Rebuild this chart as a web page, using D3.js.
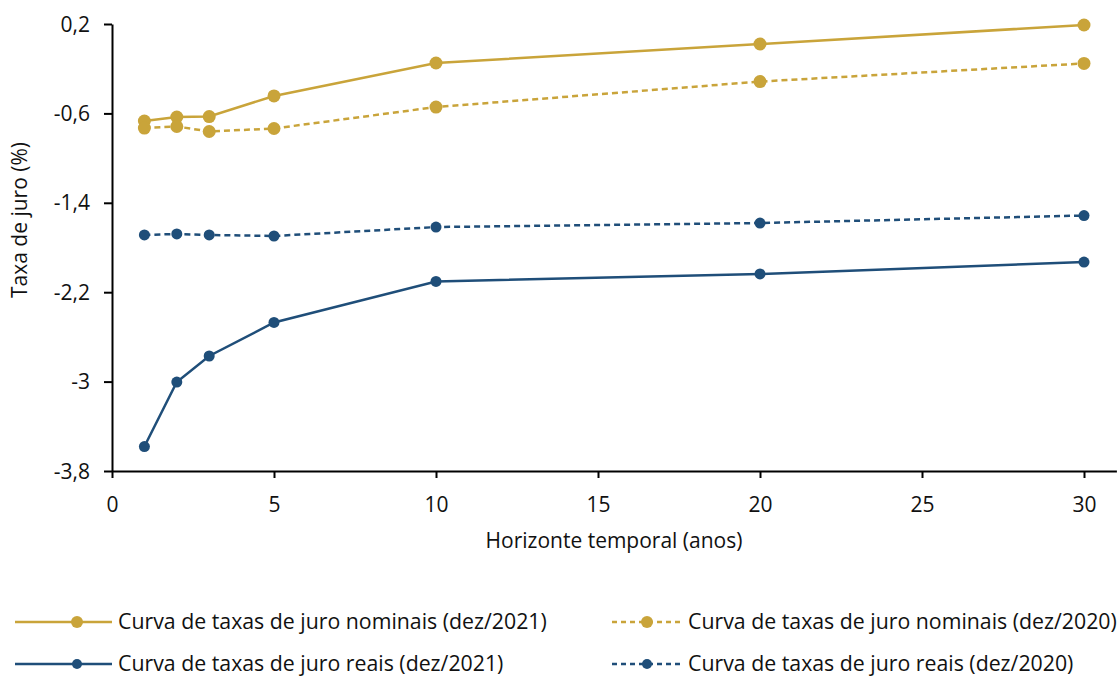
<!DOCTYPE html>
<html><head><meta charset="utf-8">
<script src="https://cdn.jsdelivr.net/npm/d3@7"></script>
<style>
body{margin:0;background:#fff;}
svg{font-family:"Open Sans",sans-serif;}
</style></head>
<body><svg id="c" width="1120" height="676"></svg>
<script>
const horizons = [1, 2, 3, 5, 10, 20, 30];
const nominal2021 = [-0.668, -0.632, -0.628, -0.444, -0.149, 0.021, 0.191];
const nominal2020 = [-0.731, -0.717, -0.762, -0.735, -0.543, -0.315, -0.153];
const real2021 = [-3.581, -3.004, -2.771, -2.471, -2.104, -2.037, -1.930];
const real2020 = [-1.688, -1.679, -1.688, -1.697, -1.617, -1.581, -1.514];
const yTicks = [0.2, -0.6, -1.4, -2.2, -3, -3.8];
const xTicks = [0, 5, 10, 15, 20, 25, 30];
const seriesNames = ["Curva de taxas de juro nominais (dez/2021)", "Curva de taxas de juro nominais (dez/2020)", "Curva de taxas de juro reais (dez/2021)", "Curva de taxas de juro reais (dez/2020)"];

const gold = "#C9A43A", blue = "#1F4E79";
const series = [
  {name: seriesNames[0], values: nominal2021, color: gold, dash: null, r: 6.5},
  {name: seriesNames[1], values: nominal2020, color: gold, dash: "6,4", r: 6.5},
  {name: seriesNames[2], values: real2021, color: blue, dash: null, r: 5.5},
  {name: seriesNames[3], values: real2020, color: blue, dash: "6,4", r: 5.5}
];

const svg = d3.select("#c");
const x = d3.scaleLinear().domain([0, 31]).range([112, 1116.4]);
const y = d3.scaleLinear().domain([-3.8, 0.2]).range([471, 24]);
const fmt = v => String(v).replace(".", ",");
const FS = 21;

const xAxis = svg.append("g").attr("transform", "translate(0,471)")
  .call(d3.axisBottom(x).tickValues(xTicks).tickSize(7).tickSizeOuter(0).tickFormat(fmt));
const yAxis = svg.append("g").attr("transform", "translate(112,0)")
  .call(d3.axisLeft(y).tickValues(yTicks).tickSize(8).tickSizeOuter(0).tickFormat(fmt));
[xAxis, yAxis].forEach(a => {
  a.select(".domain").attr("stroke", "#000").attr("stroke-width", 2);
  a.selectAll(".tick line").attr("stroke", "#000").attr("stroke-width", 2);
  a.selectAll("text").attr("font-size", FS).attr("fill", "#111").attr("font-family", "Open Sans");
});
xAxis.selectAll(".tick text").attr("y", 26).attr("dy", "0.71em");
yAxis.selectAll(".tick text").attr("x", -22).attr("dy", "0.34em");

svg.append("text").attr("x", 614).attr("y", 548).attr("text-anchor", "middle")
  .attr("font-size", FS).attr("fill", "#111").text("Horizonte temporal (anos)");
svg.append("text").attr("transform", "translate(27,220) rotate(-90)").attr("text-anchor", "middle")
  .attr("font-size", FS).attr("fill", "#111").text("Taxa de juro (%)");

const line = d3.line().x((d, i) => x(horizons[i])).y(d => y(d));
series.forEach(s => {
  svg.append("path").attr("d", line(s.values)).attr("fill", "none")
    .attr("stroke", s.color).attr("stroke-width", 2.5).attr("stroke-dasharray", s.dash);
  svg.selectAll(null).data(s.values).enter().append("circle")
    .attr("cx", (d, i) => x(horizons[i])).attr("cy", d => y(d)).attr("r", s.r).attr("fill", s.color);
});

// legend
const legPos = [[42, 622], [612, 622], [42, 664], [612, 664]];
series.forEach((s, i) => {
  const [lx, ly] = legPos[i];
  const g = svg.append("g").attr("transform", `translate(${lx},${ly})`);
  g.append("line").attr("x1", s.dash ? 0 : -27).attr("x2", 70).attr("y1", 0).attr("y2", 0)
    .attr("stroke", s.color).attr("stroke-width", 2.5).attr("stroke-dasharray", s.dash ? "5,4" : null);
  g.append("circle").attr("cx", 35).attr("cy", 0).attr("r", s.r - 0.5).attr("fill", s.color);
  g.append("text").attr("x", 76).attr("y", 0).attr("dy", "0.35em").attr("font-size", 21.3)
    .attr("fill", "#111").text(s.name);
});
</script></body></html>
